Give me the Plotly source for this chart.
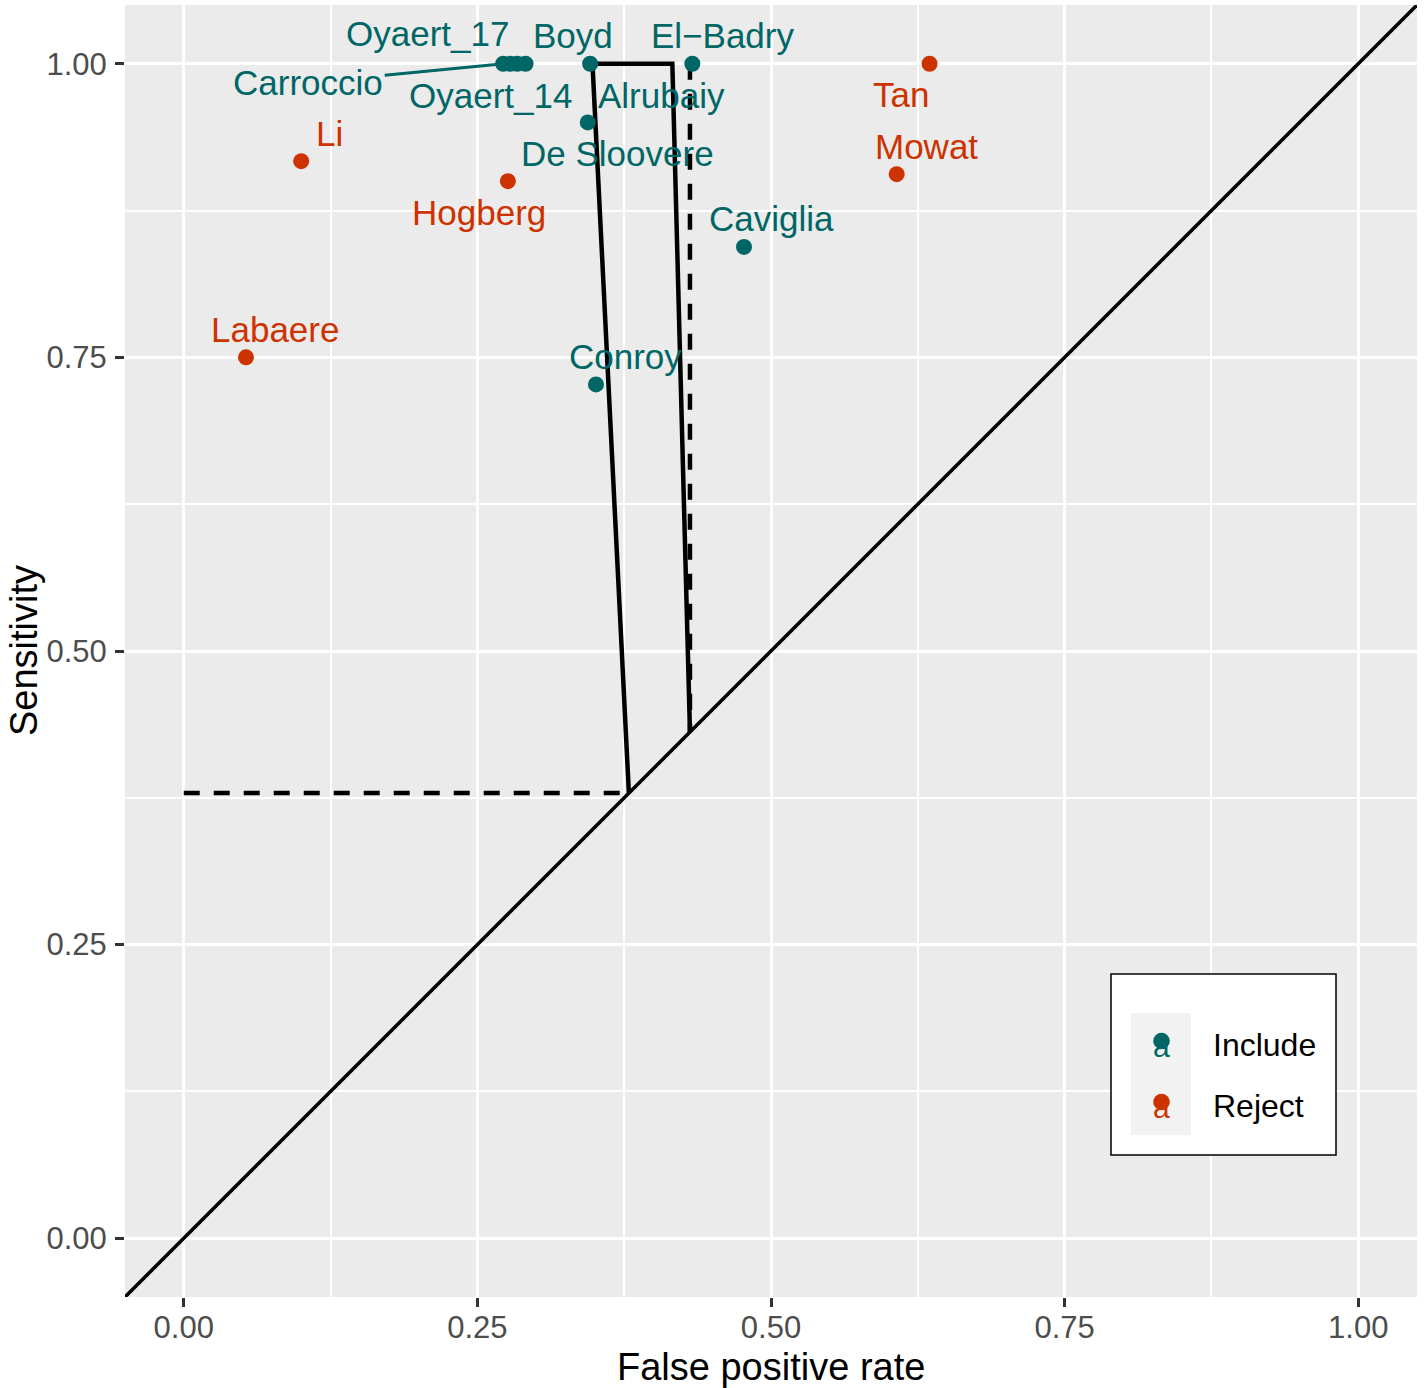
import plotly.graph_objects as go

# ---------------- data ----------------
inc_names = ["Carroccio", "Oyaert_17", "Oyaert_14", "Alrubaiy", "Boyd",
             "El\u2212Badry", "De Sloovere", "Caviglia", "Conroy"]
inc_fpr = [0.272, 0.278, 0.284, 0.291, 0.346, 0.433, 0.344, 0.477, 0.351]
inc_sens = [1.000, 1.000, 1.000, 1.000, 1.000, 1.000, 0.950, 0.844, 0.727]

rej_names = ["Li", "Hogberg", "Labaere", "Tan", "Mowat"]
rej_fpr = [0.100, 0.276, 0.053, 0.635, 0.607]
rej_sens = [0.917, 0.900, 0.750, 1.000, 0.906]

# summary region (solid) and dashed guide lines
sroc_fpr = [0.379, 0.348, 0.416, 0.431]
sroc_sens = [0.379, 1.000, 1.000, 0.431]
hguide_fpr = [0.000, 0.379]
hguide_sens = [0.379, 0.379]
vguide_fpr = [0.431, 0.431]
vguide_sens = [1.000, 0.431]
diag = [-0.05, 1.05]

tick_vals = [0.0, 0.25, 0.5, 0.75, 1.0]
tick_text = ["0.00", "0.25", "0.50", "0.75", "1.00"]
minor_vals = [0.125, 0.375, 0.625, 0.875]

group_labels = ["Include", "Reject"]
x_title = "False positive rate"
y_title = "Sensitivity"

# ---------------- styling ----------------
TEAL = "#006666"
RED = "#CC3300"
FONT = "Liberation Sans, Arial, Helvetica, sans-serif"

# label pixel offsets (dx right, dy down) from each point
inc_off = {"Carroccio": (-195, 19), "Oyaert_17": (-83, -30), "Oyaert_14": (-27, 32),
           "Alrubaiy": (136, 32), "Boyd": (-17, -28), "El\u2212Badry": (30, -28),
           "De Sloovere": (30, 31), "Caviglia": (28, -28), "Conroy": (30, -28)}
rej_off = {"Li": (28, -28), "Hogberg": (-29, 31), "Labaere": (29, -28),
           "Tan": (-29, 31), "Mowat": (30, -28)}

fig = go.Figure()

fig.add_trace(go.Scatter(x=diag, y=diag, mode="lines",
                         line=dict(color="black", width=3.5), showlegend=False, hoverinfo="skip"))
fig.add_trace(go.Scatter(x=sroc_fpr, y=sroc_sens, mode="lines",
                         line=dict(color="black", width=4.5), showlegend=False))
fig.add_trace(go.Scatter(x=hguide_fpr, y=hguide_sens, mode="lines",
                         line=dict(color="black", width=4.5, dash="16px,14px"), showlegend=False))
fig.add_trace(go.Scatter(x=vguide_fpr, y=vguide_sens, mode="lines",
                         line=dict(color="black", width=4.5, dash="16px,14px"), showlegend=False))

fig.add_trace(go.Scatter(x=inc_fpr, y=inc_sens, mode="markers", name=group_labels[0],
                         marker=dict(color=TEAL, size=16), showlegend=False))
fig.add_trace(go.Scatter(x=rej_fpr, y=rej_sens, mode="markers", name=group_labels[1],
                         marker=dict(color=RED, size=16), showlegend=False))

annotations = []
for n, x, y in zip(inc_names, inc_fpr, inc_sens):
    dx, dy = inc_off[n]
    if n == "Carroccio":
        annotations.append(dict(x=x, y=y, text=n, showarrow=True, arrowhead=0,
                                arrowwidth=3, arrowcolor=TEAL, ax=dx, ay=dy, standoff=2,
                                font=dict(family=FONT, size=35, color=TEAL)))
    else:
        annotations.append(dict(x=x, y=y, text=n, showarrow=False, xshift=dx, yshift=-dy,
                                xanchor="center", yanchor="middle",
                                font=dict(family=FONT, size=35, color=TEAL)))
for n, x, y in zip(rej_names, rej_fpr, rej_sens):
    dx, dy = rej_off[n]
    annotations.append(dict(x=x, y=y, text=n, showarrow=False, xshift=dx, yshift=-dy,
                            xanchor="center", yanchor="middle",
                            font=dict(family=FONT, size=35, color=RED)))

# ---------------- pixel -> paper helpers ----------------
W = 1292.0
def px(xp):
    return (xp - 125) / W
def py(yp):
    return (1297 - yp) / W

# axis titles
annotations.append(dict(xref="paper", yref="paper", x=px(771), y=py(1367), text=x_title,
                        showarrow=False, xanchor="center", yanchor="middle",
                        font=dict(family=FONT, size=38, color="black")))
annotations.append(dict(xref="paper", yref="paper", x=px(24), y=py(651), text=y_title,
                        showarrow=False, xanchor="center", yanchor="middle", textangle=-90,
                        font=dict(family=FONT, size=38, color="black")))

# ---------------- manual legend ----------------
shapes = [
    dict(type="rect", xref="paper", yref="paper", x0=px(1111), x1=px(1336),
         y0=py(1155), y1=py(974), fillcolor="white", line=dict(color="black", width=1.5), layer="above"),
    dict(type="rect", xref="paper", yref="paper", x0=px(1131), x1=px(1191),
         y0=py(1135), y1=py(1013), fillcolor="#F2F2F2", line=dict(width=0), layer="above"),
]
key_y = [1041, 1102]
for col, ky, lab in zip([TEAL, RED], key_y, group_labels):
    r = 8.3
    annotations.append(dict(xref="paper", yref="paper", x=px(1161.5), y=py(ky + 24),
                            text="a", showarrow=False, xanchor="center", yanchor="bottom",
                            font=dict(family=FONT, size=30, color=col)))
    shapes.append(dict(type="circle", xref="paper", yref="paper",
                       x0=px(1161.5 - r), x1=px(1161.5 + r), y0=py(ky + r), y1=py(ky - r),
                       fillcolor=col, line=dict(width=0), layer="above"))
    annotations.append(dict(xref="paper", yref="paper", x=px(1211), y=py(ky + 4),
                            xanchor="left", yanchor="middle", text=lab, showarrow=False,
                            font=dict(family=FONT, size=32, color="black")))

axis_common = dict(
    range=[-0.05, 1.05], tickmode="array", tickvals=tick_vals, ticktext=tick_text,
    ticks="outside", ticklen=9, tickwidth=2.5, tickcolor="#333333",
    tickfont=dict(family=FONT, size=31, color="#4D4D4D"),
    showgrid=True, gridcolor="white", gridwidth=3, zeroline=False, showline=False,
    automargin=False,
    minor=dict(tickmode="array", tickvals=minor_vals, showgrid=True, gridcolor="white",
               gridwidth=1.5, ticks=""),
)

fig.update_layout(
    width=1424, height=1388,
    margin=dict(l=125, r=7, t=5, b=91),
    plot_bgcolor="#EBEBEB", paper_bgcolor="white",
    xaxis=dict(axis_common, ticklabelstandoff=-6),
    yaxis=dict(axis_common, ticklabelstandoff=2),
    annotations=annotations, shapes=shapes, showlegend=False,
)

fig.write_html("out.html", config={"displayModeBar": False},
               post_script="document.body.style.margin='0px';document.body.style.overflow='hidden';")
